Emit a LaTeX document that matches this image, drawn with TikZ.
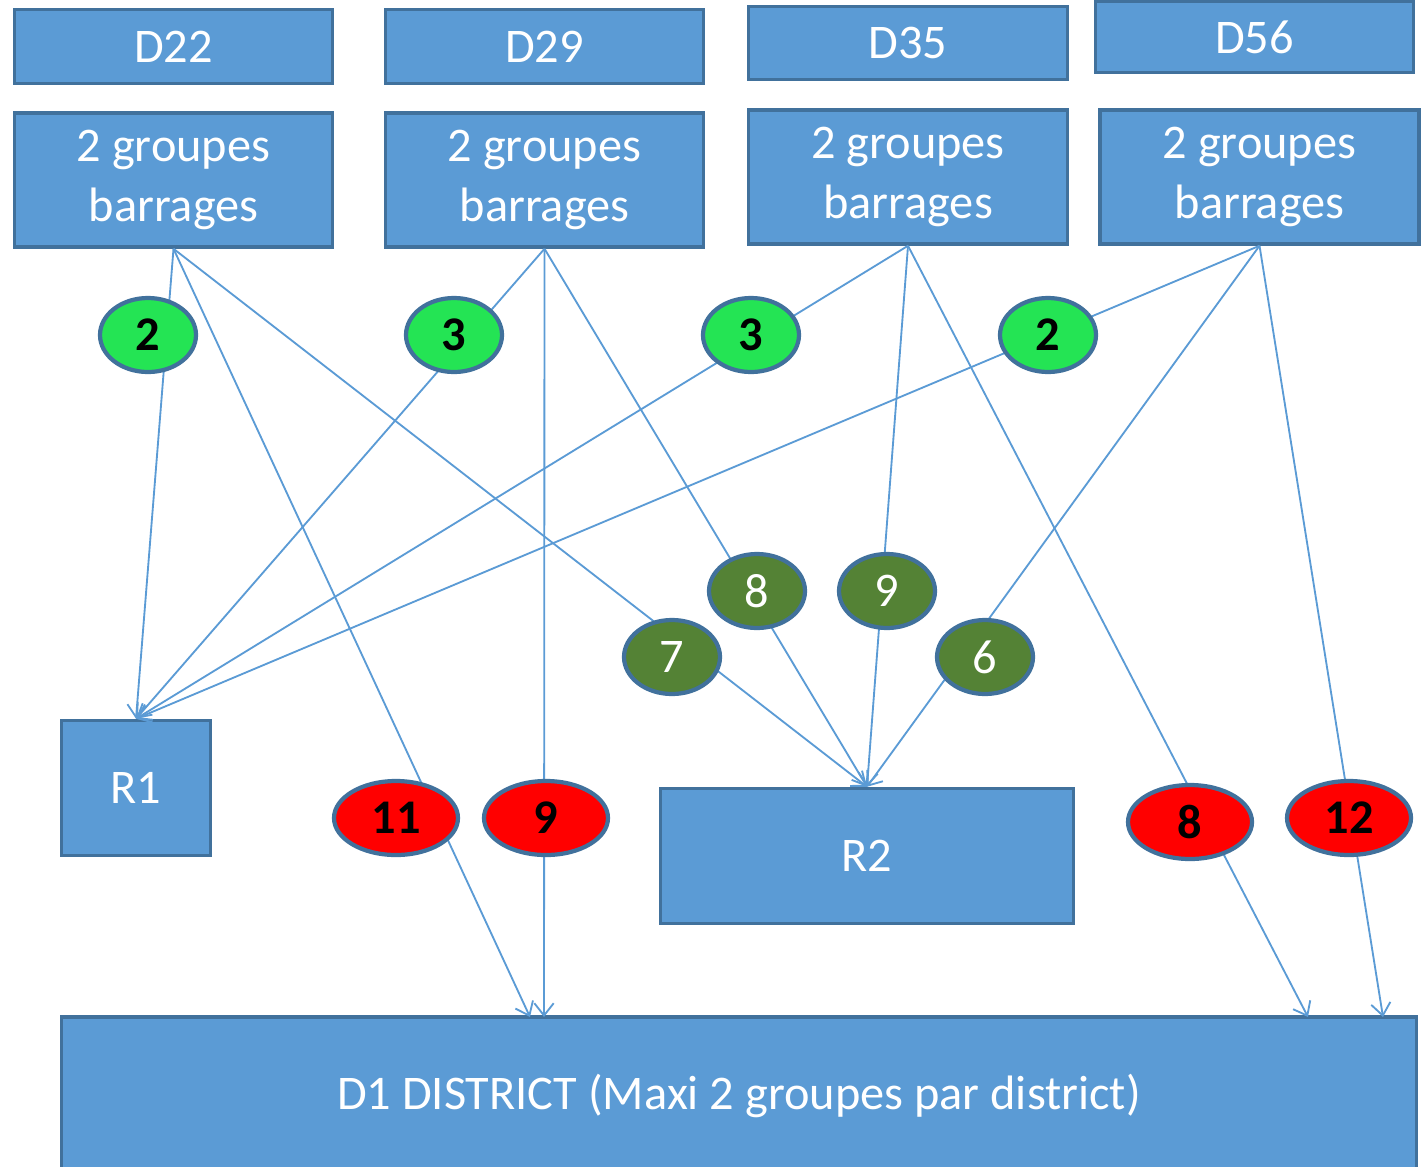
\documentclass[tikz,border=0pt]{standalone}
\usepackage{fontspec}
\setmainfont{Carlito}
\usetikzlibrary{shapes.geometric,arrows.meta,positioning}

\definecolor{boxfill}{HTML}{5B9BD5}
\definecolor{boxline}{HTML}{41719C}
\definecolor{vertclair}{HTML}{24E454}
\definecolor{vertfonce}{HTML}{548235}
\definecolor{rouge}{HTML}{FF0000}

\begin{document}
\begin{tikzpicture} [every node/.style={font=\fontsize{27.5}{34}\selectfont},
    boite/.style={rectangle,draw=boxline,line width=2pt,fill=boxfill,text=white,align=center,inner sep=0pt},
    bulle/.style={ellipse,draw=boxline,line width=2.4pt,inner sep=0pt,minimum width=1.92cm,minimum height=1.48cm},
    claire/.style={bulle,fill=vertclair,font=\fontsize{27.5}{34}\selectfont\bfseries},
    foncee/.style={bulle,fill=vertfonce,text=white},
    rougee/.style={bulle,fill=rouge,minimum width=2.48cm,font=\fontsize{27.5}{34}\selectfont\bfseries},
    fleche/.style={draw=boxfill,line width=1.05pt,-{Straight Barb[length=7pt,width=11pt]}}]
      \useasboundingbox (0,0) rectangle (28.52,-23.32);

      % departements
      \node[boite,minimum width=6.36cm,minimum height=1.48cm] (d22) at (3.47,-0.93) {D22};
      \node[boite,minimum width=6.36cm,minimum height=1.48cm] (d29) at (10.89,-0.93) {D29};
      \node[boite,minimum width=6.38cm,minimum height=1.46cm] (d35) at (18.16,-0.86) {D35};
      \node[boite,minimum width=6.36cm,minimum height=1.42cm] (d56) at (25.09,-0.74) {D56};

      \node[boite,minimum width=6.36cm,minimum height=2.68cm] (g1) at (3.47,-3.60) {2 groupes\\barrages};
      \node[boite,minimum width=6.36cm,minimum height=2.68cm] (g2) at (10.89,-3.60) {2 groupes\\barrages};
      \node[boite,minimum width=6.38cm,minimum height=2.68cm] (g3) at (18.16,-3.54) {2 groupes\\barrages};
      \node[boite,minimum width=6.38cm,minimum height=2.68cm] (g4) at (25.19,-3.54) {2 groupes\\barrages};

      % regions et district
      \node[boite,minimum width=2.98cm,minimum height=2.70cm] (r1) at (2.72,-15.76) {R1};
      \node[boite,minimum width=8.26cm,minimum height=2.70cm] (r2) at (17.34,-17.12) {R2};
      \node[boite,minimum width=27.10cm,minimum height=3.14cm] (d1) at (14.78,-21.91) {D1 DISTRICT (Maxi 2 groupes par district)};

      \coordinate (in11) at (10.60,-20.34);
      \coordinate (in9) at (10.88,-20.34);
      \coordinate (in8) at (26.16,-20.34);
      \coordinate (in12) at (27.66,-20.34);

      \draw[fleche] (g1.south) to (r1.north);
      \draw[fleche] (g1.south) to (in11);
      \draw[fleche] (g1.south) to (r2.north);
      \draw[fleche] (g2.south) to (r1.north);
      \draw[fleche] (g2.south) to (in9);
      \draw[fleche] (g2.south) to (r2.north);
      \draw[fleche] (g3.south) to (r1.north);
      \draw[fleche] (g3.south) to (r2.north);
      \draw[fleche] (g3.south) to (in8);
      \draw[fleche] (g4.south) to (r1.north);
      \draw[fleche] (g4.south) to (r2.north);
      \draw[fleche] (g4.south) to (in12);

      % nombres de groupes
      \node[claire] (a2) at (2.96,-6.70) {2};
      \node[claire] (b3) at (9.08,-6.70) {3};
      \node[claire] (c3) at (15.02,-6.70) {3};
      \node[claire] (e2) at (20.96,-6.70) {2};

      \node[foncee] (v8) at (15.14,-11.82) {8};
      \node[foncee] (v9) at (17.74,-11.82) {9};
      \node[foncee] (v7) at (13.44,-13.14) {7};
      \node[foncee] (v6) at (19.70,-13.14) {6};

      \node[rougee] (x11) at (7.92,-16.36) {11};
      \node[rougee] (x9) at (10.92,-16.36) {9};
      \node[rougee] (x8) at (23.80,-16.44) {8};
      \node[rougee] (x12) at (26.98,-16.36) {12};
\end{tikzpicture}
\end{document}
